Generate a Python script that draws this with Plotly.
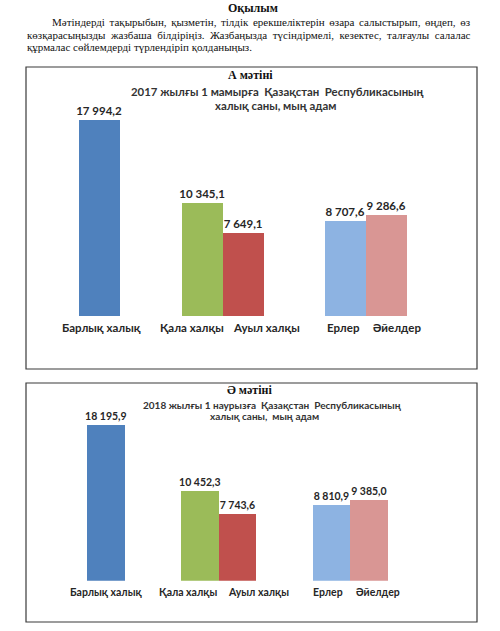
import plotly.graph_objects as go

# ---------------- data ----------------
categories = ["Барлық халық", "Қала халқы", "Ауыл халқы", "Ерлер", "Әйелдер"]
groups = ["Барлық", "Қала/Ауыл", "Қала/Ауыл", "Жынысы", "Жынысы"]
values_2017 = [17994.2, 10345.1, 7649.1, 8707.6, 9286.6]
values_2018 = [18195.9, 10452.3, 7743.6, 8810.9, 9385.0]

page_title = "Оқылым"
paragraph_lines = [
    "Мәтіндерді тақырыбын, қызметін, тілдік ерекшеліктерін өзара салыстырып, өңдеп, өз",
    "көзқарасыңызды жазбаша білдіріңіз. Жазбаңызда түсіндірмелі, кезектес, талғаулы салалас",
    "құрмалас сөйлемдерді түрлендіріп қолданыңыз.",
]
box_titles = ["А мәтіні", "Ә мәтіні"]
chart_titles = [
    ["2017 жылғы 1 мамырға  Қазақстан  Республикасының", "халық саны, мың адам"],
    ["2018 жылғы 1 наурызға  Қазақстан  Республикасының", "халық саны,  мың адам"],
]

# ---------------- styles ----------------
W, H = 500, 631
colors = ["#4F81BD", "#9BBB59", "#C0504D", "#8DB3E2", "#D99694"]
sides = [1, -1, 1, -1, 1]          # bar sits right (+1) or left (-1) of its group centre
bar_w = 0.285
offsets = [0 if s > 0 else -bar_w for s in sides]
label_tweak = [[2, -10, 24, -2, 11], [0, -12, 21, -3, 9]]
# extra inter-word spacing to imitate justified lines
justify_space = ["\u2006", "\u00a0", ""]

SANS = "Lato, 'Liberation Sans', sans-serif"
SERIF = "'Liberation Serif', 'Times New Roman', serif"


def px(x):
    return x / W


def py(y):
    return 1 - y / H


def fmt(v):
    return f"{v:,.1f}".replace(",", " ").replace(".", ",")


group_order = list(dict.fromkeys(groups))
x_range = [-0.3, 2.6]
x_domains = [[35.6 / W, 452.2 / W], [47.9 / W, 428.8 / W]]
y_range = [0, 20000]
y_domains = [[py(316), py(98.16)], [py(580.7), py(408.8)]]

fig = go.Figure()
series = [values_2017, values_2018]
for i, vals in enumerate(series):
    xa = "x" if i == 0 else "x2"
    ya = "y" if i == 0 else "y2"
    fig.add_trace(go.Bar(
        x=groups, y=vals, width=bar_w, offset=offsets,
        marker=dict(color=colors, line=dict(width=0)),
        text=[fmt(v) for v in vals], textposition="outside",
        constraintext="none", cliponaxis=False,
        textfont=dict(family=SANS, size=11.5 if i == 0 else 10.5,
                      color="#262626", weight="bold"),
        xaxis=xa, yaxis=ya, showlegend=False, hoverinfo="skip",
    ))

layout_axes = {}
for i in range(2):
    sfx = "" if i == 0 else "2"
    layout_axes["xaxis" + sfx] = dict(
        domain=x_domains[i], range=x_range, type="category",
        categoryorder="array", categoryarray=group_order,
        showticklabels=False, showgrid=False, zeroline=False, showline=False,
        anchor="y" + sfx, fixedrange=True,
    )
    layout_axes["yaxis" + sfx] = dict(
        domain=y_domains[i], range=y_range, showticklabels=False,
        showgrid=False, zeroline=False, showline=False,
        anchor="x" + sfx, fixedrange=True,
    )

annotations = []
# category labels under bars
for i in range(2):
    sfx = "" if i == 0 else "2"
    for j, cat in enumerate(categories):
        xpos = group_order.index(groups[j]) + offsets[j] + bar_w / 2
        annotations.append(dict(
            x=xpos, y=0, xref="x" + sfx, yref="y" + sfx,
            text=cat, showarrow=False, yanchor="top", xanchor="center",
            yshift=-3, xshift=label_tweak[i][j],
            font=dict(family=SANS, size=11.5 if i == 0 else 10.5,
                      color="#262626", weight="bold"),
        ))

# page header
annotations.append(dict(x=px(253), y=py(8), xref="paper", yref="paper",
                        text="<b>" + page_title + "</b>", showarrow=False,
                        font=dict(family=SERIF, size=12, color="#111"),
                        xanchor="center", yanchor="middle"))
para_pos = [(50, 22), (25, 34.5), (25, 47)]
for (x0, y0), line, sp in zip(para_pos, paragraph_lines, justify_space):
    annotations.append(dict(x=px(x0), y=py(y0), xref="paper", yref="paper",
                            text=line.replace(" ", " " + sp), showarrow=False,
                            font=dict(family=SERIF, size=11, color="#111"),
                            xanchor="left", yanchor="middle"))

# box titles and chart titles
box_title_y = [75, 390.5]
chart_title_pos = [[(277, 92), (275, 105.5)], [(272.5, 405), (264, 415.5)]]
for i in range(2):
    annotations.append(dict(x=px(250), y=py(box_title_y[i]), xref="paper", yref="paper",
                            text="<b>" + box_titles[i] + "</b>", showarrow=False,
                            font=dict(family=SERIF, size=12, color="#111"),
                            xanchor="center", yanchor="middle"))
    for (cx, cy), t in zip(chart_title_pos[i], chart_titles[i]):
        annotations.append(dict(x=px(cx), y=py(cy), xref="paper", yref="paper",
                                text=t, showarrow=False,
                                font=dict(family=SANS, size=11.4 if i == 0 else 10,
                                          color="#333", weight="bold"),
                                xanchor="center", yanchor="middle"))

boxes = [(26, 67, 477, 369), (26, 383, 477, 622)]
shapes = [dict(type="rect", xref="paper", yref="paper",
               x0=px(a), y0=py(d), x1=px(c), y1=py(b),
               line=dict(color="#3a3a3a", width=1.2), fillcolor="rgba(0,0,0,0)")
          for a, b, c, d in boxes]

fig.update_layout(
    width=W, height=H, margin=dict(l=0, r=0, t=0, b=0),
    paper_bgcolor="white", plot_bgcolor="rgba(0,0,0,0)",
    annotations=annotations, shapes=shapes, bargap=0,
    **layout_axes,
)

fig.write_html("out.html", config={"displayModeBar": False},
               post_script="document.body.style.margin='0';")
